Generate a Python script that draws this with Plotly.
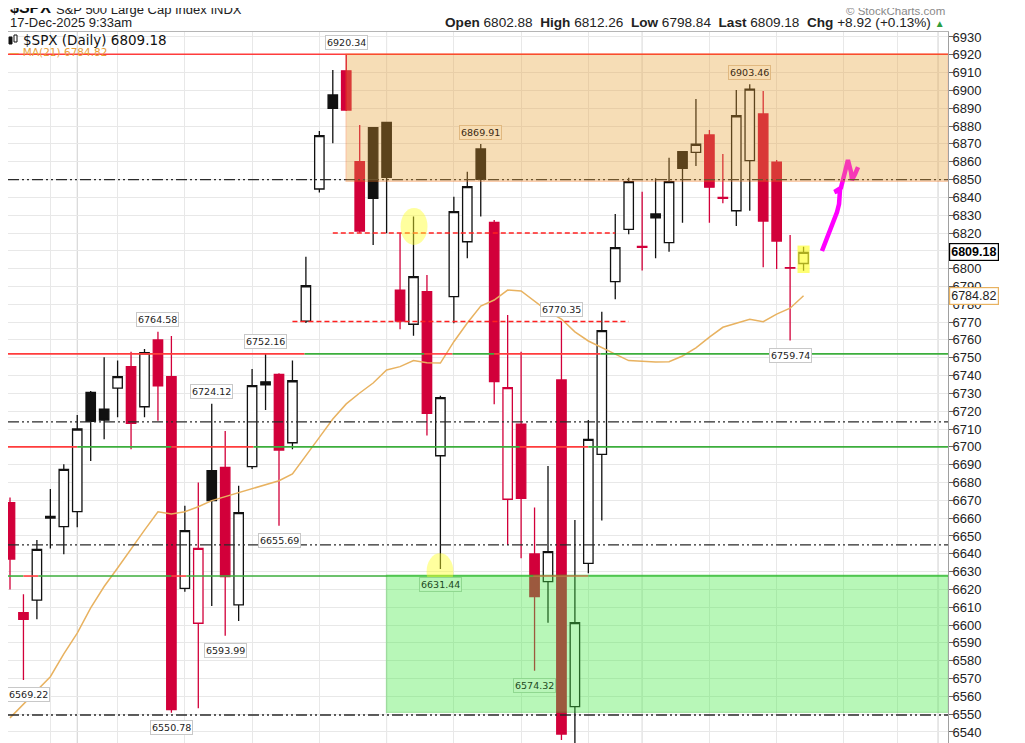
import pandas as pd
import plotly.graph_objects as go

# trading days (weekends and market holidays removed), incl. empty days on the right
holidays = ["2025-11-27", "2025-12-25", "2026-01-01"]
days = pd.bdate_range("2025-09-24", "2026-01-02")
days = days[~days.isin(pd.to_datetime(holidays))]

# daily OHLC
opens = [6668.7, 6607.0, 6614.0, 6660.0, 6655.2, 6663.6, 6730.6, 6721.2, 6732.9, 6745.0,
         6722.5, 6760.0, 6739.4, 6620.6, 6601.0, 6686.6, 6688.5, 6611.3, 6688.9, 6736.5,
         6740.7, 6702.3, 6770.6, 6844.7, 6897.5, 6911.0, 6860.0, 6879.1, 6882.1, 6788.0,
         6768.8, 6787.1, 6695.0, 6784.3, 6815.1, 6867.2, 6826.0, 6670.6, 6712.8, 6639.9,
         6624.4, 6737.5, 6554.2, 6634.6, 6695.8, 6792.7, 6822.0, 6812.5, 6830.7, 6814.6,
         6865.6, 6865.3, 6875.0, 6840.0, 6832.5, 6860.6, 6886.8, 6859.7, 6800.5, 6802.88]
highs = [6671.5, 6617.3, 6647.7, 6676.4, 6690.2, 6717.9, 6731.3, 6750.3, 6748.4, 6753.4,
         6754.9, 6764.58, 6762.2, 6667.0, 6680.0, 6724.12, 6708.9, 6678.2, 6743.7, 6752.16,
         6741.3, 6748.4, 6806.7, 6877.3, 6911.5, 6920.34, 6880.6, 6879.5, 6882.5, 6819.8,
         6829.2, 6796.4, 6728.7, 6840.4, 6854.4, 6869.91, 6827.3, 6774.0, 6753.4, 6665.9,
         6689.3, 6770.35, 6659.0, 6715.0, 6775.8, 6830.7, 6851.0, 6843.2, 6850.7, 6862.3,
         6866.0, 6895.2, 6877.8, 6864.3, 6900.3, 6903.46, 6899.7, 6861.0, 6818.9, 6812.26]
lows = [6620.0, 6569.22, 6603.2, 6643.0, 6639.7, 6654.9, 6692.0, 6704.2, 6716.6, 6698.6,
        6716.6, 6714.7, 6550.78, 6618.7, 6553.3, 6610.7, 6593.99, 6602.3, 6687.5, 6720.7,
        6655.69, 6698.6, 6769.5, 6842.8, 6870.3, 6888.5, 6820.2, 6813.3, 6819.8, 6766.0,
        6762.4, 6706.3, 6631.44, 6769.3, 6805.8, 6829.2, 6723.9, 6644.9, 6637.5, 6574.32,
        6601.3, 6535.5, 6521.5, 6629.0, 6658.6, 6782.8, 6819.3, 6798.9, 6805.8, 6809.5,
        6825.8, 6857.6, 6825.8, 6836.7, 6824.0, 6832.5, 6800.8, 6799.8, 6759.74, 6798.84]
closes = [6637.0, 6603.2, 6642.5, 6661.0, 6687.4, 6710.0, 6714.3, 6715.0, 6739.4, 6713.2,
          6752.8, 6734.2, 6552.6, 6653.0, 6643.0, 6669.8, 6627.2, 6663.1, 6734.3, 6734.8,
          6698.2, 6737.1, 6790.4, 6874.6, 6890.0, 6889.0, 6821.1, 6839.5, 6851.3, 6770.6,
          6795.5, 6718.8, 6727.6, 6832.0, 6846.0, 6850.1, 6736.6, 6733.2, 6671.1, 6615.9,
          6641.2, 6538.8, 6601.3, 6704.2, 6765.2, 6811.8, 6848.8, 6812.0, 6828.5, 6848.8,
          6856.3, 6869.8, 6845.7, 6839.5, 6885.8, 6900.7, 6826.7, 6815.5, 6800.26, 6809.18]
# 21-day moving average
ma21 = [6547.9, 6555.7, 6563.5, 6571.0, 6583.8, 6595.5, 6609.6, 6621.6, 6632.0, 6643.0,
        6653.3, 6663.6, 6662.3, 6663.6, 6666.4, 6669.8, 6672.0, 6674.0, 6676.5, 6678.6,
        6681.0, 6684.8, 6695.4, 6705.3, 6715.6, 6724.1, 6730.2, 6735.8, 6743.1, 6745.0,
        6748.4, 6747.2, 6747.0, 6759.0, 6769.5, 6779.0, 6782.4, 6788.0, 6787.5, 6782.0,
        6776.0, 6771.7, 6764.5, 6759.4, 6755.5, 6752.0, 6748.4, 6747.8, 6747.6, 6747.8,
        6751.0, 6755.5, 6761.6, 6767.1, 6769.5, 6771.6, 6770.2, 6774.5, 6777.8, 6784.82]

# hand drawn magenta projection (day index, price)
pen_x = [60.37, 60.67, 60.97, 61.26, 61.49, 61.64, 61.71, 61.71, 61.3, 61.78,
         62.08, 62.30, 62.53, 62.60, 62.83, 63.05]
pen_y = [6809.9, 6815.5, 6820.6, 6826.7, 6831.8, 6836.3, 6840.8, 6844.1, 6843.0, 6845.3,
         6854.2, 6861.0, 6854.2, 6849.8, 6853.1, 6857.0]

# high / low price flags: (day index, price, above?)
flags = [(25, 6920.34, True), (11, 6764.58, True), (19, 6752.16, True), (15, 6724.12, True),
         (35, 6869.91, True), (41, 6770.35, True), (55, 6903.46, True),
         (20, 6655.69, False), (16, 6593.99, False), (1, 6569.22, False), (12, 6550.78, False),
         (32, 6631.44, False), (39, 6574.32, False), (58, 6759.74, False)]

# horizontal annotation levels
red_level = 6920.34
dashdot_levels = [6850, 6714, 6645, 6549.5]
dashed_red = [(6820, 24.0, 45.0), (6770.35, 21.0, 46.0)]
split_levels = [
    (6752.16, [("r", -1, 21.9), ("g", 21.9, 30.8), ("r", 30.8, 32.9), ("g", 32.9, 36.0),
               ("r", 36.0, 43.9), ("g", 43.9, 71)]),
    (6700.0, [("r", -1, 5.0), ("g", 5.0, 12.0), ("r", 12.0, 18.1), ("g", 18.1, 37.9),
              ("r", 37.9, 43.0), ("g", 43.0, 71)]),
    (6627.5, [("g", -1, 1.0), ("r", 1.0, 2.1), ("g", 2.1, 12.0), ("r", 12.0, 13.1),
              ("g", 13.1, 38.9), ("r", 38.9, 43.0), ("g", 43.0, 71)]),
]
orange_zone = (25, 6849, 6920.34)
green_zone = (28, 6551, 6628)

# page is shown with an 8px body margin, so the figure is sized to the visible area
OFF = 8
W, H = 1025 - OFF, 743 - OFF
L, R, T, B = 0, 77, 24, 0
X_MIN, X_MAX = -0.149, 69.74


def px(x):
    return (x - OFF - L) / (W - L - R)


def py(y):
    return 1 - (y - OFF - T) / (H - T - B)


RED = "#d2003a"
BLACK = "#111111"
LRED = "#ff3c3c"
LGREEN = "#3cae3c"

idx = list(range(len(closes)))
is_red = [True] + [closes[i] < closes[i - 1] for i in range(1, len(closes))]

fig = go.Figure()


def candles(sel, colour):
    xs = [i for i in idx if sel[i]]
    fig.add_trace(go.Candlestick(
        x=xs, open=[opens[i] for i in xs], high=[highs[i] for i in xs],
        low=[lows[i] for i in xs], close=[closes[i] for i in xs],
        increasing=dict(line=dict(color=colour, width=1.3), fillcolor="white"),
        decreasing=dict(line=dict(color=colour, width=1.3), fillcolor=colour),
        whiskerwidth=0, hoverinfo="skip", showlegend=False))


candles([not r for r in is_red], BLACK)
candles(is_red, RED)

fig.add_trace(go.Scatter(x=idx, y=ma21, mode="lines", line=dict(color="#e8b260", width=1.5),
                         hoverinfo="skip", showlegend=False))
fig.add_trace(go.Scatter(x=pen_x, y=pen_y, mode="lines", line=dict(color="#ff00ff", width=4.5),
                         hoverinfo="skip", showlegend=False))

shapes = []
# month separators (darker grid)
month_starts = [i for i in range(1, len(days)) if days[i].month != days[i - 1].month]
for m in month_starts:
    shapes.append(dict(type="line", xref="x", yref="paper", x0=m, x1=m, y0=0, y1=1,
                       line=dict(color="#cfcfcf", width=1), layer="below"))

shapes.append(dict(type="line", xref="paper", yref="y", x0=0, x1=1, y0=red_level, y1=red_level,
                   line=dict(color=LRED, width=1.6)))
for lv in dashdot_levels:
    shapes.append(dict(type="line", xref="paper", yref="y", x0=0, x1=1, y0=lv, y1=lv,
                       line=dict(color="#2a2a2a", width=1.3, dash="11px,3px,2px,3px,2px,3px")))
for lv, a, b in dashed_red:
    shapes.append(dict(type="line", xref="x", yref="y", x0=a, x1=b, y0=lv, y1=lv,
                       line=dict(color="#ff2020", width=1.4, dash="5px,3px")))
for lv, segs in split_levels:
    for c, a, b in segs:
        shapes.append(dict(type="line", xref="x", yref="y", x0=max(a, X_MIN), x1=min(b, X_MAX),
                           y0=lv, y1=lv, line=dict(color=LRED if c == "r" else LGREEN, width=1.6)))

# shaded zones
shapes.append(dict(type="rect", xref="x", yref="y", x0=orange_zone[0], x1=X_MAX,
                   y0=orange_zone[1], y1=orange_zone[2], fillcolor="rgb(232,160,50)",
                   opacity=0.35, line=dict(color="rgb(240,110,20)", width=1.5)))
shapes.append(dict(type="rect", xref="x", yref="y", x0=green_zone[0], x1=X_MAX,
                   y0=green_zone[1], y1=green_zone[2], fillcolor="rgb(70,235,70)",
                   opacity=0.38, line=dict(color="rgb(40,200,40)", width=1.5)))
# yellow highlights
for cx, cy in [(30.04, 6823.7), (31.97, 6629.9)]:
    shapes.append(dict(type="circle", xref="x", yref="y", x0=cx - 1.0, x1=cx + 1.0,
                       y0=cy - 10.4, y1=cy + 10.4, fillcolor="rgb(255,255,40)",
                       opacity=0.45, line=dict(width=0)))
shapes.append(dict(type="rect", xref="x", yref="y", x0=idx[-1] - 0.45, x1=idx[-1] + 0.45,
                   y0=lows[-1] - 1.3, y1=highs[-1] + 0.7, fillcolor="rgb(255,255,40)",
                   opacity=0.65, line=dict(width=0)))

# small candle glyph in front of the series name
for gx0, gx1, gy0, gy1, fill in [(9, 12, 37, 44, "#111"), (14, 17, 35, 42, "white")]:
    shapes.append(dict(type="rect", xref="paper", yref="paper", x0=px(gx0), x1=px(gx1),
                       y0=py(gy1), y1=py(gy0), fillcolor=fill, line=dict(color="#111", width=1)))

ann = []
for i, v, above in flags:
    in_orange = above and i >= orange_zone[0] and orange_zone[1] <= v < orange_zone[2]
    in_green = i >= green_zone[0] and v <= green_zone[2] + 8
    bg, fc, bc = "white", "#222", "#c8c8c8"
    if in_orange:
        bg, fc, bc = "#f7dcb2", "#3a2a12", "#e0b880"
    if in_green:
        bg, fc, bc = "#b8f5b8", "#1d4a1d", "#90d890"
    ann.append(dict(x=i, y=v, xref="x", yref="y", text=f"{v:.2f}", showarrow=False,
                    xshift=5 if i < 2 else 0, yshift=12 if above else -15,
                    bgcolor=bg, bordercolor=bc, borderwidth=1,
                    borderpad=1, font=dict(family="DejaVu Sans", size=9.5, color=fc)))

chg = closes[-1] - closes[-2]
pct = chg / closes[-2] * 100
quote = (f"<b>Open</b> {opens[-1]:.2f}  <b>High</b> {highs[-1]:.2f}  <b>Low</b> {lows[-1]:.2f}  "
         f"<b>Last</b> {closes[-1]:.2f}  <b>Chg</b> {chg:+.2f} ({pct:+.2f}%) "
         f"<span style='color:#2e9e3e;font-size:10px'>▲</span>")
font_a = "Liberation Sans, Arial, sans-serif"
header = [
    dict(x=px(8), y=py(8), text="<b>$SPX</b>", font=dict(family=font_a, size=16, color="#111")),
    dict(x=px(54), y=py(9), text="S&P 500 Large Cap Index INDX", font=dict(family=font_a, size=13, color="#222")),
    dict(x=px(8), y=py(23), text="17-Dec-2025 9:33am", font=dict(family=font_a, size=13, color="#222")),
    dict(x=px(947), y=py(23), text=quote, xanchor="right", font=dict(family=font_a, size=13.6, color="#222")),
    dict(x=px(947), y=py(11), text="© StockCharts.com", xanchor="right", font=dict(family=font_a, size=11.5, color="#8a8a8a")),
    dict(x=px(21), y=py(40), text=f"$SPX (Daily) {closes[-1]:.2f}", font=dict(family="DejaVu Sans", size=13.5, color="#111")),
    dict(x=px(7), y=py(52), text=f"— MA(21) {ma21[-1]:.2f}", font=dict(family="DejaVu Sans", size=10.5, color="#e8a13a")),
]
for a in header:
    a.update(xref="paper", yref="paper", showarrow=False, yanchor="middle")
    a.setdefault("xanchor", "left")
ann += header

# right-axis price tags
ann.append(dict(x=1, y=closes[-1], xref="paper", yref="y", xanchor="left", xshift=1, showarrow=False,
                text=f"<b>{closes[-1]:.2f}</b>", bgcolor="white", bordercolor="#000", borderwidth=1.2,
                borderpad=1, font=dict(family=font_a, size=12.5, color="#000")))
ann.append(dict(x=1, y=ma21[-1], xref="paper", yref="y", xanchor="left", xshift=1, showarrow=False,
                text=f"{ma21[-1]:.2f}", bgcolor="white", bordercolor="#e8b260", borderwidth=1.2,
                borderpad=1, font=dict(family=font_a, size=12.5, color="#222")))

week_starts = [i for i in range(1, len(days)) if days[i].isocalendar().week != days[i - 1].isocalendar().week]

fig.update_layout(
    width=W, height=H, margin=dict(l=L, r=R, t=T, b=B),
    plot_bgcolor="white", paper_bgcolor="white",
    boxgap=0.0, boxgroupgap=0.3,
    shapes=shapes, annotations=ann,
    xaxis=dict(range=[X_MIN, X_MAX], tickvals=week_starts, showticklabels=False, ticks="",
               showgrid=True, gridcolor="#e8e8e8", zeroline=False, rangeslider=dict(visible=False),
               showline=True, mirror=True, linecolor="#b5b5b5", linewidth=1),
    yaxis=dict(side="right", range=[6533.8, 6932.8], tick0=6540, dtick=10, showgrid=True,
               gridcolor="#e8e8e8", zeroline=False, ticks="outside", ticklen=4, tickcolor="#666",
               ticklabelstandoff=-3,
               tickfont=dict(family=font_a, size=13, color="#222"),
               showline=True, mirror=True, linecolor="#a0a0a0", linewidth=1),
)

fig.write_html("out.html")
